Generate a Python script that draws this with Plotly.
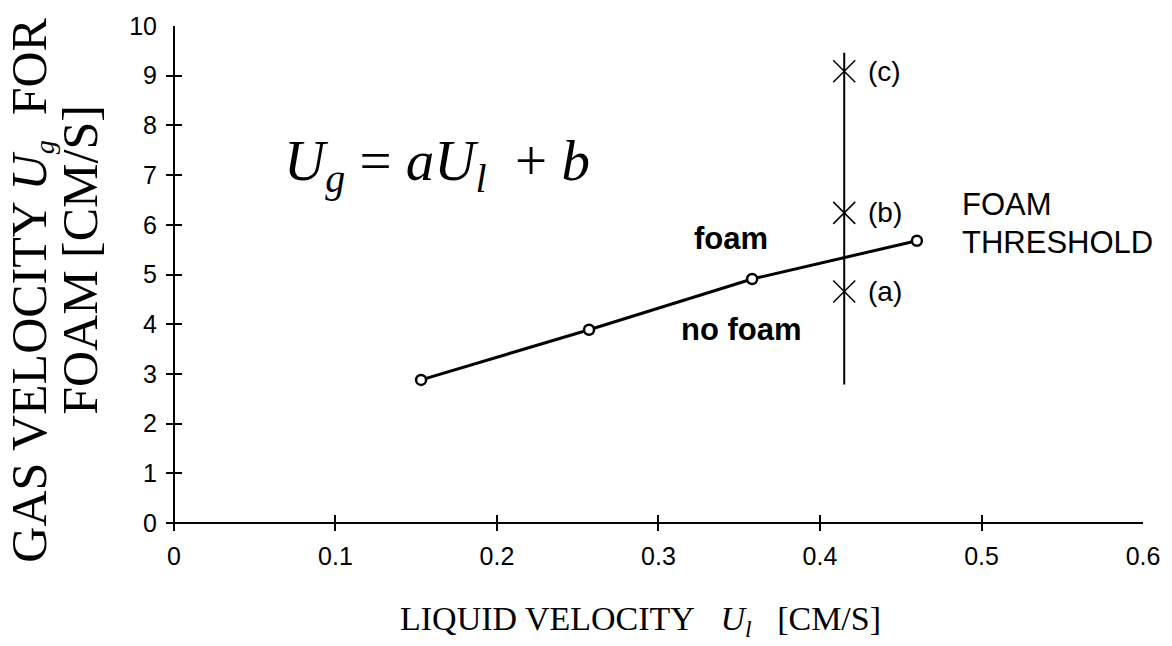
import plotly.graph_objects as go

# Foam threshold data
liquid_velocity = [0.153, 0.257, 0.358, 0.460]
gas_velocity = [2.88, 3.89, 4.91, 5.68]

# Experimental cases at fixed liquid velocity
case_x = [0.415, 0.415, 0.415]
case_y = [4.66, 6.24, 9.09]
case_labels = ["(a)", "(b)", "(c)"]

# Vertical guide line extent
guide_x = [0.415, 0.415]
guide_y = [2.79, 9.46]

x_ticks = [0, 0.1, 0.2, 0.3, 0.4, 0.5, 0.6]
x_tick_text = ["0", "0.1", "0.2", "0.3", "0.4", "0.5", "0.6"]
y_ticks = list(range(0, 11))
y_tick_text = [str(v) for v in y_ticks]

SANS = "Liberation Sans, Arial, Helvetica, sans-serif"
SERIF = "Liberation Serif, Times New Roman, serif"

W, H = 1172, 646
T = 8  # tick marks cross the axis lines by T px on each side
# the plotting area extends T px beyond the zero lines (left and bottom)
ML, MR, MT, MB = 166, 27, 21, 115
PW, PH = W - ML - MR, H - MT - MB
X_MAX, Y_MAX = 0.6, 10
x_lo = -X_MAX * T / (PW - T)
y_lo = -Y_MAX * T / (PH - T)


def px_x(px):
    return (px - ML) / PW


def px_y(py):
    return (H - MB - py) / PH


fig = go.Figure()

fig.add_trace(go.Scatter(
    x=guide_x, y=guide_y, mode="lines",
    line=dict(color="black", width=2),
    showlegend=False, hoverinfo="skip",
))

fig.add_trace(go.Scatter(
    x=liquid_velocity, y=gas_velocity, mode="lines+markers",
    line=dict(color="black", width=3),
    marker=dict(symbol="circle", size=10, color="white",
                line=dict(color="black", width=2.5)),
    showlegend=False,
))

fig.add_trace(go.Scatter(
    x=case_x, y=case_y, mode="markers",
    marker=dict(symbol="x-thin-open", size=22, color="black",
                line=dict(color="black", width=1.5)),
    showlegend=False,
))

annotations = []
for cx, cy, lab in zip(case_x, case_y, case_labels):
    annotations.append(dict(
        x=cx, y=cy, xref="x", yref="y", text=lab, showarrow=False,
        xanchor="left", yanchor="middle", xshift=22,
        font=dict(family=SANS, size=28, color="black"),
    ))

annotations += [
    dict(x=0.163, y=7.2, xref="x", yref="y", showarrow=False,
         xanchor="center", yanchor="middle",
         text="<i>U</i><sub><i>g</i></sub> = <i>aU</i><sub><i>l</i></sub>\u00a0 + <i>b</i>",
         font=dict(family=SERIF, size=57, color="black")),
    dict(x=0.345, y=5.72, xref="x", yref="y", showarrow=False,
         xanchor="center", yanchor="middle",
         text="<b>foam</b>", font=dict(family=SANS, size=31, color="black")),
    dict(x=0.3515, y=3.90, xref="x", yref="y", showarrow=False,
         xanchor="center", yanchor="middle",
         text="<b>no foam</b>", font=dict(family=SANS, size=31, color="black")),
    dict(x=0.4869, y=6.41, xref="x", yref="y", showarrow=False,
         xanchor="left", yanchor="middle", text="FOAM",
         font=dict(family=SANS, size=31, color="black")),
    dict(x=0.4869, y=5.64, xref="x", yref="y", showarrow=False,
         xanchor="left", yanchor="middle", text="THRESHOLD",
         font=dict(family=SANS, size=31, color="black")),
    dict(x=px_x(30), y=px_y(288), xref="paper", yref="paper", showarrow=False,
         xanchor="center", yanchor="middle", textangle=-90,
         text="GAS VELOCITY <i>U</i><span style='font-size:40px'><sub><i>g</i></sub></span>\u00a0 FOR",
         font=dict(family=SERIF, size=50, color="black")),
    dict(x=px_x(80), y=px_y(257), xref="paper", yref="paper", showarrow=False,
         xanchor="center", yanchor="middle", textangle=-90,
         text="FOAM [CM/S]",
         font=dict(family=SERIF, size=50, color="black")),
    dict(x=px_x(641), y=px_y(622), xref="paper", yref="paper", showarrow=False,
         xanchor="center", yanchor="middle",
         text="LIQUID VELOCITY\u00a0\u00a0 <i>U</i><sub><i>l</i></sub>\u00a0\u00a0 [CM/S]",
         font=dict(family=SERIF, size=34, color="black")),
]

# Axes: ticks drawn "inside" from the plot edge with length 2T, so they
# straddle the zero lines, which act as the visible axis lines.
fig.update_layout(
    width=W, height=H,
    margin=dict(l=ML, r=MR, t=MT, b=MB),
    paper_bgcolor="white", plot_bgcolor="white",
    xaxis=dict(range=[x_lo, X_MAX], tickvals=x_ticks, ticktext=x_tick_text,
               ticks="inside", ticklen=2 * T, tickwidth=2, tickcolor="black",
               showline=False, showgrid=False,
               zeroline=True, zerolinecolor="black", zerolinewidth=2,
               tickfont=dict(family=SANS, size=25, color="black"),
               ticklabelstandoff=8),
    yaxis=dict(range=[y_lo, Y_MAX], tickvals=y_ticks, ticktext=y_tick_text,
               ticks="inside", ticklen=2 * T, tickwidth=2, tickcolor="black",
               showline=False, showgrid=False,
               zeroline=True, zerolinecolor="black", zerolinewidth=2,
               tickfont=dict(family=SANS, size=25, color="black"),
               ticklabelstandoff=8),
    annotations=annotations,
    showlegend=False,
)

fig.write_html("out.html")
